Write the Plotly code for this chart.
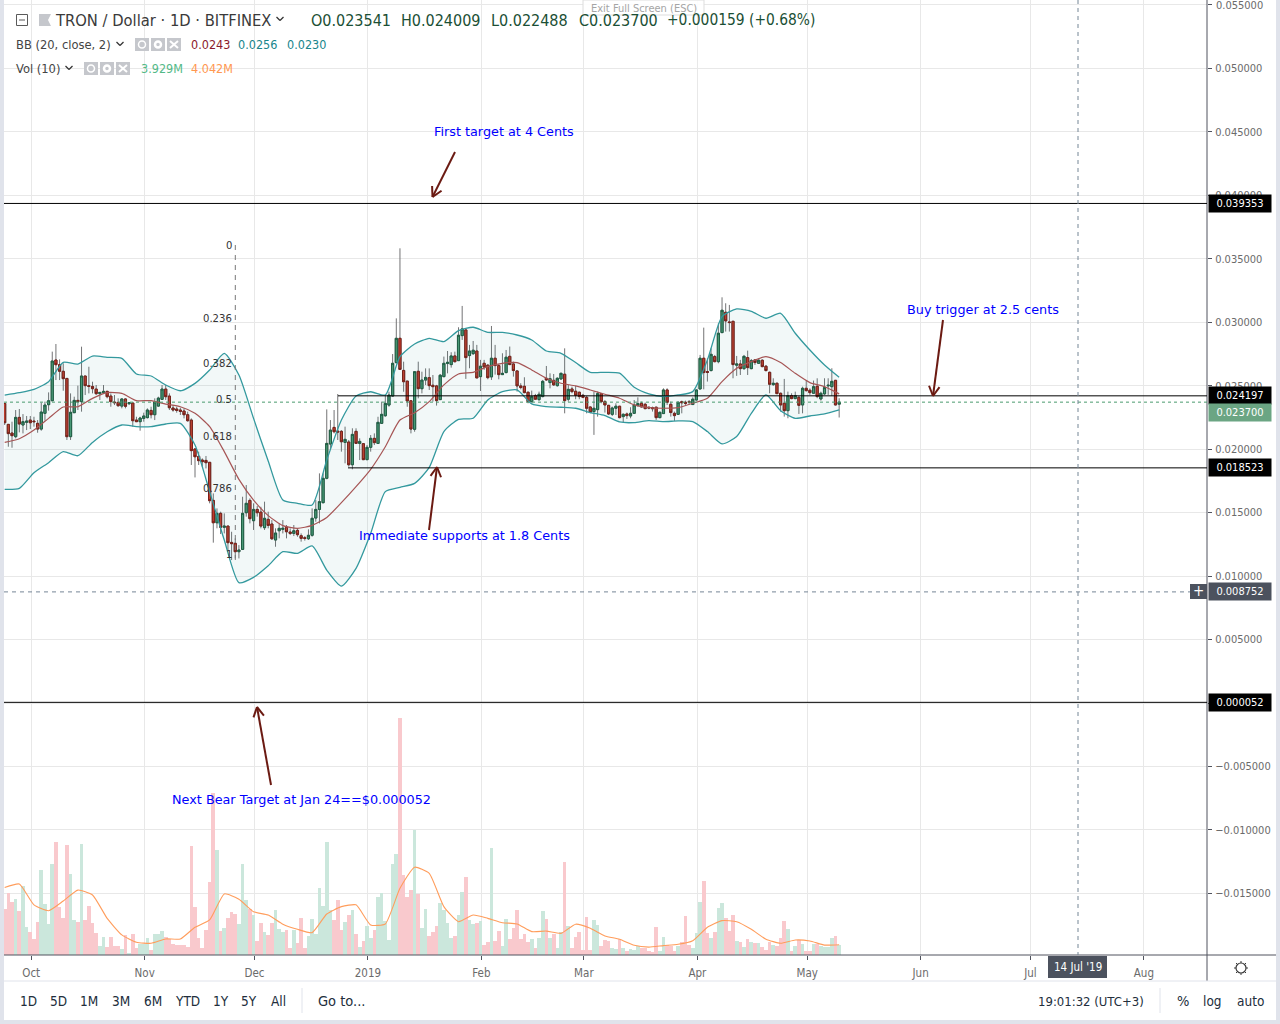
import math
import pandas as pd
import plotly.graph_objects as go

W, H = 1280, 1024
PLOT_L, PLOT_R, PLOT_B = 4, 1207, 955

# ---- data, prices in 1e-5 dollars, volumes in millions ----
first_day = "2018-09-24"
open_e5 = [
 2360,2195,2127,2098,2250,2190,2211,2229,2221,2203,2158,2282,2350,2381,2702,2665,2613,2557,2098,2287,
 2384,2374,2576,2500,2494,2473,2437,2444,2455,2418,2371,2368,2339,2395,2358,2363,2229,2216,2242,2248,
 2305,2271,2339,2392,2473,2418,2324,2316,2308,2300,2271,2229,2001,1943,1914,1911,1896,1596,1420,1494,
 1384,1394,1265,1258,1192,1210,1499,1596,1436,1525,1504,1381,1447,1410,1284,1357,1368,1384,1347,1336,
 1360,1318,1302,1294,1321,1457,1525,1578,1770,2040,2171,2142,2140,2053,2056,1877,2140,2045,2043,1917,
 2014,2085,2045,2203,2263,2347,2418,2681,2873,2620,2536,2381,2156,2613,2476,2544,2563,2503,2498,2390,
 2571,2674,2666,2734,2697,2894,2939,2737,2752,2773,2571,2676,2661,2569,2716,2658,2587,2603,2731,2671,
 2616,2498,2495,2448,2374,2422,2390,2414,2558,2524,2542,2500,2553,2590,2393,2474,2456,2448,2424,2408,
 2332,2296,2311,2437,2374,2345,2274,2322,2338,2256,2277,2261,2282,2343,2361,2353,2330,2327,2330,2248,
 2280,2466,2353,2282,2274,2374,2369,2374,2351,2387,2474,2716,2611,2619,2729,2689,2918,3078,3002,3007,
 2661,2671,2634,2721,2634,2703,2676,2700,2653,2605,2508,2519,2440,2361,2303,2422,2398,2408,2348,2479,
 2464,2440,2495,2395,2435,2498,2492,2542,2354]
high_e5 = [
 2360,2195,2216,2308,2316,2276,2261,2261,2255,2229,2366,2374,2447,2768,2828,2707,2676,2557,2439,2413,
 2500,2807,2576,2649,2531,2505,2447,2505,2460,2439,2426,2400,2400,2400,2371,2363,2255,2255,2287,2321,
 2334,2400,2413,2505,2505,2439,2347,2334,2326,2321,2295,2242,2006,1980,1927,1946,1896,1651,1533,1507,
 1494,1394,1349,1297,1244,1625,1717,1612,1573,1552,1546,1586,1507,1441,1376,1415,1441,1402,1376,1402,
 1376,1336,1315,1368,1533,1599,1809,1809,2313,2229,2308,2434,2150,2177,2072,2164,2164,2085,2043,2032,
 2111,2124,2255,2374,2426,2452,2749,3030,3582,2689,2536,2381,2610,2689,2610,2636,2636,2584,2506,2592,
 2729,2773,2763,2768,2960,3128,2944,2821,2852,2821,2703,2703,2671,2970,2821,2671,2755,2781,2808,2689,
 2616,2519,2566,2453,2461,2435,2453,2545,2655,2597,2592,2566,2603,2794,2506,2492,2498,2453,2435,2419,
 2335,2453,2453,2440,2387,2348,2335,2361,2340,2282,2288,2330,2387,2408,2374,2366,2335,2335,2335,2296,
 2479,2479,2374,2296,2374,2382,2382,2387,2408,2471,2742,2957,2716,2794,2742,2991,3196,3149,3136,3010,
 2734,2703,2742,2776,2710,2708,2716,2708,2663,2611,2558,2524,2445,2553,2453,2440,2453,2419,2492,2540,
 2479,2540,2558,2453,2558,2558,2637,2545,2401]
low_e5 = [
 2190,2019,2011,2085,2132,2124,2150,2158,2177,2129,2145,2224,2303,2379,2544,2544,2460,2072,2072,2287,
 2308,2295,2426,2439,2439,2426,2387,2439,2400,2334,2347,2334,2321,2321,2347,2177,2216,2145,2216,2242,
 2242,2229,2334,2387,2387,2308,2295,2287,2269,2242,2216,1875,1777,1875,1862,1848,1573,1263,1376,1331,
 1336,1205,1126,1139,1139,1205,1468,1415,1363,1468,1376,1363,1376,1284,1231,1297,1336,1297,1323,1315,
 1310,1271,1279,1284,1310,1428,1415,1573,1762,1993,2124,2072,1980,1888,1862,1841,2045,1914,1914,1914,
 1980,2032,2040,2198,2255,2334,2413,2676,2628,2452,2334,2124,2137,2400,2439,2505,2466,2374,2343,2387,
 2566,2597,2642,2682,2697,2860,2553,2637,2742,2561,2458,2624,2550,2545,2587,2550,2584,2597,2663,2571,
 2453,2471,2440,2361,2366,2387,2380,2408,2537,2479,2498,2492,2545,2282,2374,2440,2393,2393,2401,2282,
 2282,2112,2256,2361,2288,2269,2261,2269,2243,2209,2238,2243,2277,2335,2330,2314,2314,2296,2230,2243,
 2277,2348,2256,2222,2269,2282,2348,2348,2348,2382,2471,2471,2532,2611,2684,2676,2913,2926,2926,2558,
 2577,2584,2624,2584,2629,2663,2671,2645,2611,2440,2498,2435,2296,2256,2243,2393,2393,2277,2282,2453,
 2427,2435,2401,2382,2427,2427,2419,2345,2249]
close_e5 = [
 2208,2122,2106,2250,2198,2216,2221,2208,2216,2158,2292,2347,2381,2694,2665,2613,2555,2098,2290,2384,
 2374,2576,2500,2494,2476,2437,2447,2455,2413,2374,2366,2342,2395,2337,2366,2224,2216,2245,2261,2308,
 2271,2371,2402,2473,2413,2326,2308,2305,2297,2271,2224,1988,1940,1909,1901,1893,1594,1420,1494,1384,
 1394,1263,1255,1192,1205,1494,1573,1452,1525,1499,1394,1455,1399,1294,1339,1376,1376,1349,1336,1357,
 1326,1297,1297,1321,1455,1525,1586,1770,2045,2150,2137,2135,2058,2077,1877,2116,2045,2061,1917,2014,
 2085,2051,2211,2274,2360,2426,2676,2873,2628,2531,2379,2158,2610,2476,2544,2565,2500,2492,2382,2582,
 2676,2684,2734,2689,2897,2947,2721,2773,2779,2561,2653,2647,2563,2716,2658,2587,2597,2724,2666,2619,
 2498,2485,2445,2374,2414,2393,2432,2534,2545,2555,2506,2558,2597,2382,2471,2453,2424,2414,2408,2322,
 2290,2322,2437,2374,2348,2277,2324,2338,2248,2274,2264,2282,2348,2359,2332,2319,2324,2319,2248,2290,
 2466,2369,2288,2264,2369,2366,2361,2369,2393,2466,2716,2603,2605,2747,2689,2913,3094,3010,2997,2666,
 2671,2634,2731,2642,2697,2682,2700,2650,2619,2511,2519,2437,2348,2303,2422,2398,2422,2345,2479,2461,
 2445,2492,2414,2440,2485,2503,2534,2348,2370]
volume_m = [
 18.1,24.5,21.0,22.0,17.3,27.1,11.1,9.2,6.3,13.1,33.4,19.9,12.2,35.8,44.5,19.0,14.5,43.2,31.8,13.8,
 13.0,43.6,13.8,19.3,12.4,8.5,3.5,7.1,3.3,7.2,3.5,3.5,2.4,7.9,0.7,8.3,2.8,4.3,4.3,6.7,
 2.0,8.3,8.3,9.4,7.1,6.3,4.3,3.9,3.9,3.9,3.1,42.8,18.9,6.7,2.8,9.8,28.7,63.7,41.3,9.4,
 10.6,14.5,16.9,16.1,12.2,35.8,21.6,18.1,15.7,5.5,12.6,9.0,7.9,12.6,17.7,10.2,9.0,9.8,2.8,9.8,
 4.7,14.5,2.8,7.5,14.1,8.3,26.3,19.3,44.4,17.7,13.8,21.6,9.8,13.0,15.7,17.7,8.3,3.1,5.5,11.4,
 6.7,9.8,22.8,24.4,13.4,5.9,35.8,39.7,93.1,31.4,22.8,25.5,49.1,24.0,10.6,18.1,7.5,
 9.0,11.4,20.3,17.7,12.4,6.7,7.5,15.7,24.8,30.7,13.8,12.2,12.6,13.4,3.9,5.1,41.9,5.5,9.4,3.5,
 14.1,6.3,10.6,17.7,6.3,8.3,5.1,6.3,2.8,6.7,17.3,14.1,6.7,8.3,2.8,9.0,36.5,11.4,2.8,7.1,
 9.0,2.0,14.9,2.0,13.8,11.8,3.5,5.9,5.5,2.8,2.4,6.3,2.8,1.6,2.4,2.1,3.5,2.8,2.8,1.6,
 1.2,11.0,1.6,7.1,3.9,3.5,1.6,3.5,5.1,15.3,3.9,2.8,8.6,20.8,29.1,8.6,6.7,9.0,18.5,20.4,
 14.5,9.4,15.7,5.5,5.1,3.1,6.3,5.1,4.7,4.7,3.1,2.0,5.1,3.9,3.5,6.7,13.4,10.2,1.6,3.5,
 5.9,4.3,1.6,1.6,4.3,4.3,3.5,3.1,3.1,6.7,7.5,3.929]

# indicator readings taken every fourth trading day
indicator_step_days = list(range(0, 229, 4))
bb_upper_e5 = [
 2426,2445,2471,2531,2683,2670,2733,2723,2715,2592,2576,2505,2460,2518,2623,2754,2584,2242,1906,1599,
 1573,1560,1914,2229,2418,2452,2426,2728,2828,2873,2847,2934,2960,2920,2920,2899,2860,2773,2755,2682,
 2605,2605,2598,2487,2435,2414,2427,2453,2703,3044,3104,3086,3031,3070,2913,2781,2663,2566]
bb_lower_e5 = [
 1683,1691,1814,1893,1980,1948,2053,2137,2190,2177,2177,2198,2203,2032,1665,1284,948,990,1082,1192,
 1179,1237,1047,921,1061,1336,1665,1699,1730,1856,2138,2235,2243,2387,2453,2466,2356,2335,2330,2322,
 2288,2264,2214,2209,2225,2217,2222,2217,2138,2041,2099,2282,2427,2303,2243,2261,2277,2309]
bb_basis_e5 = [
 2053,2082,2150,2242,2332,2334,2400,2445,2439,2382,2382,2355,2334,2282,2177,1980,1762,1599,1476,1397,
 1376,1399,1462,1578,1704,1841,2019,2229,2287,2374,2506,2592,2605,2650,2676,2682,2624,2558,2519,2498,
 2466,2432,2401,2348,2327,2322,2327,2361,2401,2532,2637,2689,2729,2682,2597,2524,2492,2435]
vol_ma_m = [
 26.5,27.9,19.7,17.4,21.2,25.5,23.6,14.4,7.9,5.0,4.6,6.3,6.3,10.9,13.8,24.0,21.9,17.0,15.7,12.1,
 10.1,8.8,16.1,19.0,19.7,11.8,12.2,26.2,34.5,32.1,19.0,13.1,15.7,14.4,12.7,12.2,9.2,9.4,8.5,12.1,
 10.5,7.5,6.2,3.8,3.1,3.7,4.2,5.6,10.9,13.5,13.1,10.1,6.2,4.6,5.9,5.5,3.9,4.042]

month_ticks = ["2018-10-01","2018-11-01","2018-12-01","2019-01-01","2019-02-01","2019-03-01",
               "2019-04-01","2019-05-01","2019-06-01","2019-07-01","2019-08-01"]
month_labels = ["Oct","Nov","Dec","2019","Feb","Mar","Apr","May","Jun","Jul","Aug"]
price_lines = [0.039353, 0.024197, 0.018523, 0.000052]
last_price = 0.0237
cross_price = 0.008752
fib_levels = ["0","0.236","0.382","0.5","0.618","0.786","1"]

# ---- helpers ----
dates = pd.date_range(first_day, periods=len(open_e5), freq="D")
ind_dates = [dates[i] for i in indicator_step_days]
e5 = lambda a: [v / 1e5 for v in a]
o, h, l, c = e5(open_e5), e5(high_e5), e5(low_e5), e5(close_e5)
body_hi = [max(a, b) for a, b in zip(o, c)]
body_lo = [min(a, b) for a, b in zip(o, c)]
px = lambda x: x / W
py = lambda y: 1 - y / H
pdate = lambda x: pd.Timestamp("2018-10-01") + pd.Timedelta(days=(x - 30.3) / 3.66)
pprice = lambda y: (703 - y) / 12694

PINK, MINT = "#f9c9cd", "#cbe7dc"
vol_colors = [MINT if b >= a else PINK for a, b in zip(o, c)]
UI_FONT = "DejaVu Sans Condensed, Tahoma, sans-serif"
NOTE_FONT = "DejaVu Sans, Verdana, sans-serif"
AXIS = "#50535e"
GRID = "#e8e8e8"
TEAL = "#33999e"

fig = go.Figure()
fig.add_bar(x=dates, y=volume_m, marker=dict(color=vol_colors, line_width=0), yaxis="y", xaxis="x",
            width=86400000, hoverinfo="skip")
fig.add_scatter(x=ind_dates, y=vol_ma_m, mode="lines", yaxis="y", hoverinfo="skip",
                line=dict(color="#ff9d5c", width=1.1, shape="spline", smoothing=0.5))
fig.add_scatter(x=ind_dates, y=e5(bb_lower_e5), mode="lines", yaxis="y2", hoverinfo="skip",
                line=dict(color=TEAL, width=1.3, shape="spline", smoothing=0.6))
fig.add_scatter(x=ind_dates, y=e5(bb_upper_e5), mode="lines", yaxis="y2", hoverinfo="skip", fill="tonexty",
                fillcolor="rgba(40,140,140,0.06)",
                line=dict(color=TEAL, width=1.3, shape="spline", smoothing=0.6))
fig.add_scatter(x=ind_dates, y=e5(bb_basis_e5), mode="lines", yaxis="y2", hoverinfo="skip",
                line=dict(color="#a65555", width=1.2, shape="spline", smoothing=0.6))
WICK = "#737375"
fig.add_candlestick(x=dates, open=o, high=h, low=l, close=c, yaxis="y2", hoverinfo="skip", whiskerwidth=0,
                    increasing=dict(line=dict(color=WICK, width=1), fillcolor=WICK),
                    decreasing=dict(line=dict(color=WICK, width=1), fillcolor=WICK))
fig.add_candlestick(x=dates, open=o, high=body_hi, low=body_lo, close=c, yaxis="y2", hoverinfo="skip", whiskerwidth=0,
                    increasing=dict(line=dict(color="#1f5c40", width=1), fillcolor="#4c9a75"),
                    decreasing=dict(line=dict(color="#7a1c14", width=1), fillcolor="#c8402f"))

shapes = []
def paper_rect(x0, y0, x1, y1, fill, line=None, layer="below"):
    shapes.append(dict(type="rect", xref="paper", yref="paper", x0=px(x0), x1=px(x1), y0=py(y0), y1=py(y1),
                       fillcolor=fill, line=dict(color=line or fill, width=1 if line else 0), layer=layer))
def paper_line(x0, y0, x1, y1, color, width=1, dash="solid", layer="above"):
    shapes.append(dict(type="line", xref="paper", yref="paper", x0=px(x0), x1=px(x1), y0=py(y0), y1=py(y1),
                       line=dict(color=color, width=width, dash=dash), layer=layer))
def paper_circle(cx, cy, r, line, width, fill="rgba(0,0,0,0)"):
    shapes.append(dict(type="circle", xref="paper", yref="paper", x0=px(cx - r), x1=px(cx + r), y0=py(cy + r), y1=py(cy - r),
                       line=dict(color=line, width=width), fillcolor=fill, layer="above"))

paper_rect(4, 0, 1276, 1020, "#ffffff")
paper_line(PLOT_R, 0, PLOT_R, 981, AXIS)
paper_line(PLOT_L, PLOT_B, 1276, PLOT_B, AXIS)
paper_line(PLOT_L, 981, 1276, 981, "#e0e3eb")
paper_line(302, 988, 302, 1013, "#e0e3eb")
paper_line(1160, 988, 1160, 1013, "#e0e3eb")

# drawn price lines
for val, start in zip(price_lines, [PLOT_L, 338, 348, PLOT_L]):
    shapes.append(dict(type="line", xref="paper", yref="y2", x0=px(start), x1=px(PLOT_R), y0=val, y1=val,
                       line=dict(color="#000000", width=1)))
shapes.append(dict(type="line", xref="paper", yref="y2", x0=px(PLOT_L), x1=px(PLOT_R), y0=last_price, y1=last_price,
                   line=dict(color="#4a9a6e", width=1, dash="dot")))
shapes.append(dict(type="line", xref="paper", yref="y2", x0=px(PLOT_L), x1=px(PLOT_R), y0=cross_price, y1=cross_price,
                   line=dict(color="#758696", width=1, dash="4px,4px")))
paper_line(1078, 0, 1078, PLOT_B, "#758696", 1, "4px,4px")
paper_line(235.3, 245, 235.3, 562, "#777777", 1, "5px,5px")

annots = []
def text(x, y, s, size=12, color="#333333", anchor="left", family=UI_FONT, **kw):
    d = dict(xref="paper", yref="paper", x=px(x - 1 if anchor == "left" else x), y=py(y), text=s, showarrow=False,
             xanchor=anchor, yanchor="middle", font=dict(family=family, size=size, color=color), borderpad=0)
    d.update(kw)
    annots.append(d)

# fib labels
for s, y in zip(fib_levels, [245, 318, 363, 399, 436, 488, 554]):
    annots.append(dict(xref="paper", yref="y2", x=px(234), y=pprice(y), text=s, showarrow=False, xanchor="right", yanchor="middle",
                       font=dict(family=UI_FONT, size=11.2, color="#333333")))

# blue notes
BLUE = "#0000ff"
text(504, 131.5, "First target at 4 Cents", 12.8, BLUE, "center", NOTE_FONT)
text(983, 309.5, "Buy trigger at 2.5 cents", 12.8, BLUE, "center", NOTE_FONT)
text(464.5, 535.5, "Immediate supports at 1.8 Cents", 12.8, BLUE, "center", NOTE_FONT)
text(301.5, 799.5, "Next Bear Target at Jan 24==$0.000052", 12.8, BLUE, "center", NOTE_FONT)

# open-headed arrows
ARROW = "#6b1a12"
for (x0, y0, x1, y1) in [(455, 152, 432.5, 197), (943, 320, 933, 396), (429, 530, 437, 467), (271, 785, 257, 707)]:
    paper_line(x0, y0, x1, y1, ARROW, 2)
    ang = math.atan2(y0 - y1, x0 - x1)
    for d in (-0.5, 0.5):
        paper_line(x1, y1, x1 + 11 * math.cos(ang + d), y1 + 11 * math.sin(ang + d), ARROW, 2)

# axis price tags
def tag(val, bg, shift=0):
    annots.append(dict(xref="paper", yref="y2", x=px(1208), y=val, yshift=shift, xanchor="left", yanchor="middle",
                       text=f"{val:.6f}", showarrow=False, bgcolor=bg, width=60, height=15, align="center",
                       font=dict(family=UI_FONT, size=11, color="#ffffff")))
for v in price_lines:
    tag(v, "#000000")
tag(last_price, "#6ba583", -10)
tag(cross_price, "#4c525e")
paper_rect(1190, 584, 1207, 599, "#4c525e", layer="above")
text(1198.5, 591, "+", 15, "#ffffff", "center")
paper_rect(1048, 956, 1107, 978, "#4c525e", layer="above")
text(1077.5, 967, "14 Jul '19", 11.5, "#ffffff", "center")
text(1216, 5, "0.055000", 11, "#6b6b6b")

# header
paper_rect(16.5, 14.5, 27.5, 25.5, "#ffffff", "#5a5a5a", layer="above")
paper_line(19, 20, 25, 20, "#5a5a5a")
shapes.append(dict(type="path", xref="paper", yref="paper", layer="above", fillcolor="#c5c7cc", line=dict(width=0),
                   path=f"M{px(39)},{py(14)} L{px(51)},{py(14)} L{px(48)},{py(20)} L{px(51)},{py(26)} L{px(39)},{py(26)} Z"))
def chevron(x, y):
    paper_line(x - 3.5, y - 2, x, y + 1.5, "#333333", 1.2)
    paper_line(x, y + 1.5, x + 3.5, y - 2, "#333333", 1.2)
chevron(280, 19)
text(55, 20, "TRON / Dollar · 1D · BITFINEX", 16.4, "#3a3a3a")
DG = "#1b4f35"
for x, s, z in zip([311, 401, 491, 579, 667], ["O0.023541", "H0.024009", "L0.022488", "C0.023700", "+0.000159 (+0.68%)"],
                   [16, 16, 16, 16, 15.4]):
    text(x, 20, s, z, DG)
paper_rect(583, 0, 704, 15, "rgba(255,255,255,0.9)", "#dddddd", layer="above")
text(643.5, 8, "Exit Full Screen (ESC)", 11, "#a5a5a5", "center")

def icons(x, y):
    for i, dx in enumerate((0, 16, 32)):
        paper_rect(x + dx, y - 6.5, x + dx + 14, y + 6.5, "#c5c7cc", layer="above")
    paper_circle(x + 7, y, 3.5, "#ffffff", 1.5)
    paper_circle(x + 23, y, 3, "#ffffff", 2.5)
    paper_line(x + 35, y - 3.5, x + 43, y + 3.5, "#ffffff", 2)
    paper_line(x + 35, y + 3.5, x + 43, y - 3.5, "#ffffff", 2)

text(16, 44.5, "BB (20, close, 2)", 12.8, "#444444")
chevron(120, 44)
icons(135, 44.5)
text(191, 44.5, "0.0243", 12.5, "#8b1a2b")
text(238, 44.5, "0.0256", 12.5, "#18858c")
text(287, 44.5, "0.0230", 12.5, "#18858c")
text(16, 68.5, "Vol (10)", 12.8, "#444444")
chevron(69, 68)
icons(84, 68.5)
text(141, 68.5, "3.929M", 12.5, "#53b987")
text(191, 68.5, "4.042M", 12.5, "#ff9850")

# bottom toolbar
for x, s in zip([28, 58, 89, 121, 153, 187, 221, 249, 278], ["1D", "5D", "1M", "3M", "6M", "YTD", "1Y", "5Y", "All"]):
    text(x, 1001, s, 13.5, "#222e3c", "center")
text(318, 1001, "Go to...", 14.5, "#222e3c")
text(1038, 1001, "19:01:32 (UTC+3)", 13, "#222e3c")
text(1183, 1001, "%", 14.5, "#222e3c", "center")
text(1212, 1001, "log", 13.5, "#222e3c", "center")
text(1250, 1001, "auto", 13.5, "#222e3c", "center")

# settings wheel
paper_circle(1241, 968, 5, "#3a3a3a", 1.2, "#ffffff")
for a, b, e, f in [(1241, 961, 1241, 963), (1241, 973, 1241, 975), (1234, 968, 1236, 968), (1246, 968, 1248, 968),
                   (1236, 963, 1237.5, 964.5), (1246, 963, 1244.5, 964.5), (1236, 973, 1237.5, 971.5), (1246, 973, 1244.5, 971.5)]:
    paper_line(a, b, e, f, "#3a3a3a", 1)

x_range = [pdate(PLOT_L), pdate(PLOT_R)]
tick_shift = [pd.Timestamp(t) + pd.Timedelta(hours=6) for t in month_ticks]
dom_x = [px(PLOT_L), px(PLOT_R)]
dom_y = [1 - PLOT_B / H, 1]

fig.update_layout(
    width=W, height=H, margin=dict(l=0, r=0, t=0, b=0), autosize=False,
    paper_bgcolor="#e0e3eb", plot_bgcolor="#ffffff", showlegend=False,
    barmode="overlay", bargap=0, boxmode="overlay", boxgap=0.16, hovermode=False, dragmode=False,
    xaxis=dict(type="date", domain=dom_x, range=x_range, rangeslider=dict(visible=False),
               tickvals=tick_shift, ticktext=month_labels, showgrid=True, gridcolor=GRID, gridwidth=1,
               ticks="outside", ticklen=4, tickcolor=AXIS, showline=False, zeroline=False, anchor="y",
               tickfont=dict(family=UI_FONT, size=11.5, color="#6b6b6b"), ticklabelstandoff=3),
    yaxis=dict(domain=dom_y, range=[0, 375.3], visible=False, showgrid=False, zeroline=False, fixedrange=True),
    yaxis2=dict(domain=dom_y, range=[pprice(PLOT_B), pprice(0)], overlaying="y", side="right", anchor="x",
                dtick=0.005, tick0=0, tickformat=".6f", showgrid=True, gridcolor=GRID, gridwidth=1, zeroline=False,
                ticks="outside", ticklen=4, tickcolor=AXIS, showline=False,
                tickfont=dict(family=UI_FONT, size=11, color="#6b6b6b"), ticklabelstandoff=1),
    shapes=shapes, annotations=annots,
)
fig.write_html("out.html", config={"displayModeBar": False},
               post_script="document.body.style.margin='0';document.body.style.overflow='hidden';")
